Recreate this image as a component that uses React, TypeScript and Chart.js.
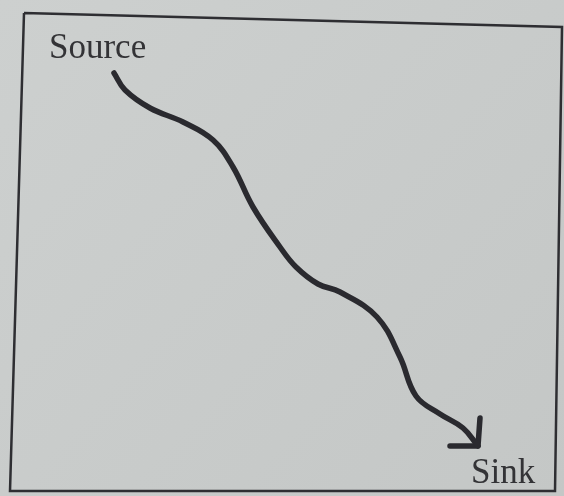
import React, { useEffect, useRef } from "react";
import { Chart, registerables } from "chart.js";

Chart.register(...registerables);

// Page-space data (x: 0..564 left→right, y: 0..496 top→bottom)
const boxX = [24, 562, 555, 10, 24];
const boxY = [13, 27, 491, 491, 13];

const curveX = [114, 125, 150, 183, 213, 233, 253, 280, 296, 318, 340, 377, 400, 416, 440, 463, 478];
const curveY = [73, 90, 108, 122, 140, 167, 207, 247, 267, 284, 292, 317, 357, 396, 414, 428, 446];

const arrowX = [480, 478, 450];
const arrowY = [418, 446, 446];

const labelText = ["Source", "Sink"];
const labelX = [49, 471];
const labelY = [58, 483];

const toPts = (xs: number[], ys: number[]) => xs.map((x, i) => ({ x, y: ys[i] }));

export default function App() {
  const ref = useRef<HTMLCanvasElement | null>(null);

  useEffect(() => {
    if (!ref.current) return;
    const bgPlugin = {
      id: "bg",
      beforeDraw(chart: any) {
        const { ctx, width, height } = chart;
        ctx.save();
        const g = ctx.createLinearGradient(0, 0, width, height);
        g.addColorStop(0, "#cdd0cf");
        g.addColorStop(1, "#c4c7c6");
        ctx.fillStyle = g;
        ctx.fillRect(0, 0, width, height);
        ctx.restore();
      },
    };
    const textPlugin = {
      id: "labels",
      afterDatasetsDraw(chart: any) {
        const { ctx, scales } = chart;
        ctx.save();
        ctx.fillStyle = "#333336";
        ctx.font = '35px "Liberation Serif", "DejaVu Serif", serif';
        ctx.textBaseline = "alphabetic";
        ctx.textAlign = "left";
        labelText.forEach((t, i) => {
          ctx.fillText(t, scales.x.getPixelForValue(labelX[i]), scales.y.getPixelForValue(labelY[i]));
        });
        ctx.restore();
      },
    };
    const chart = new Chart(ref.current, {
      type: "scatter",
      data: {
        datasets: [
          {
            data: toPts(boxX, boxY),
            showLine: true,
            borderColor: "#2e2e32",
            borderWidth: 2.5,
            pointRadius: 0,
            tension: 0,
          },
          {
            data: toPts(curveX, curveY),
            showLine: true,
            borderColor: "#2a2a2f",
            borderWidth: 5.5,
            pointRadius: 0,
            tension: 0.4,
            borderCapStyle: "round",
            borderJoinStyle: "round",
          },
          {
            data: toPts(arrowX, arrowY),
            showLine: true,
            borderColor: "#2a2a2f",
            borderWidth: 5.5,
            pointRadius: 0,
            tension: 0,
            borderCapStyle: "round",
            borderJoinStyle: "round",
          },
        ],
      },
      options: {
        responsive: false,
        animation: false,
        layout: { padding: 0 },
        plugins: { legend: { display: false }, tooltip: { enabled: false } },
        scales: {
          x: { type: "linear", min: 0, max: 564, display: false },
          y: { type: "linear", min: 0, max: 496, reverse: true, display: false },
        },
      },
      plugins: [bgPlugin, textPlugin],
    });
    return () => chart.destroy();
  }, []);

  return (
    <div style={{ position: "fixed", left: 0, top: 0, width: 564, height: 496 }}>
      <canvas ref={ref} width={564} height={496} style={{ display: "block", width: 564, height: 496 }} />
    </div>
  );
}
